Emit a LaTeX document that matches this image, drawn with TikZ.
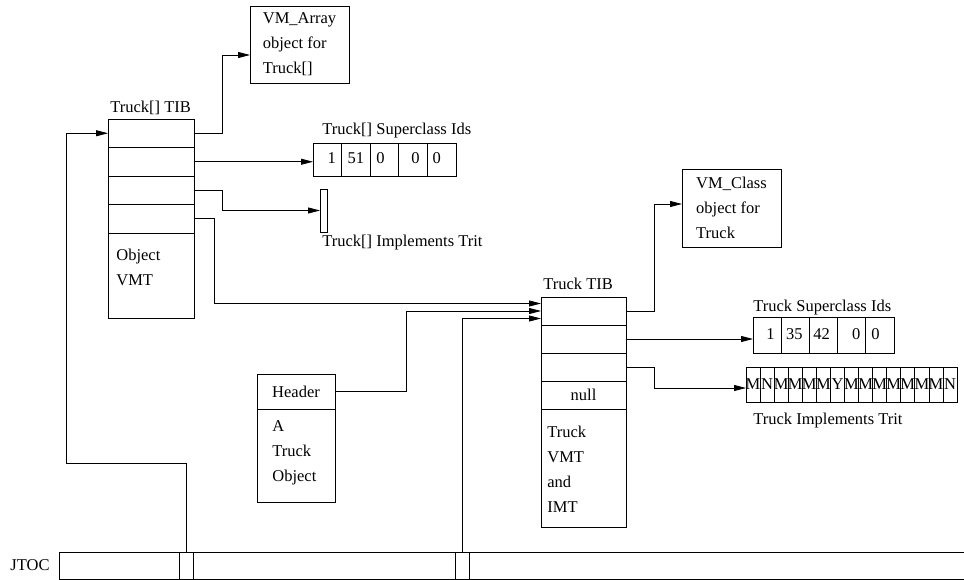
\documentclass[tikz,border=0pt]{standalone}
\usepackage{fontspec}
\setmainfont{Liberation Serif}
\usetikzlibrary{positioning, arrows.meta, calc}

\begin{document}
\begin{tikzpicture}[
    x=1pt, y=-1pt,
    >={Triangle[length=12pt,width=6pt]},
    line width=0.8pt,
    font=\fontsize{16.5}{25}\selectfont,
    node distance=0pt,
    arrow/.style={
        ->
    },
    slot/.style={
        rectangle,
        draw,
        inner sep=0pt,
        outer sep=0pt,
        minimum width=86pt,
        minimum height=28.5pt
    },
    box/.style={
        rectangle,
        draw,
        align=left,
        inner sep=0pt,
        outer sep=0pt
    },
    idcell/.style={
        rectangle,
        draw,
        inner sep=0pt,
        outer sep=0pt
    },
    tritcell/.style={
        idcell,
        minimum width=14.07pt,
        minimum height=35pt
    },
    txt/.style={
        align=left,
        inner sep=0pt
    },
    lbl/.style={
        inner sep=0pt
    }
]

    \useasboundingbox (0,0) rectangle (964,580);

    % --- Truck[] TIB ---
    \node[slot, anchor=north west] (ar1) at (108,119) {};
    \node[slot, below=of ar1] (ar2) {};
    \node[slot, below=of ar2] (ar3) {};
    \node[slot, below=of ar3] (ar4) {};
    \node[slot, below=of ar4, minimum height=85pt] (arvmt) {};
    \node[txt, anchor=north west] (arvmttxt) at ([shift={(8,16)}]arvmt.north west) {Object\\VMT};
    \node[lbl, anchor=base west] (arlbl) at ([shift={(2,-6)}]ar1.north west) {Truck[] TIB};

    \node[box, anchor=north west, minimum width=99pt, minimum height=77pt] (vmarr) at (250,6) {VM\_Array\\object for\\Truck[]};

    % Truck[] superclass ids
    \foreach \v/\dx [count=\i] in {1/4.5, 51/0, 0/-4, 0/2.5, 0/-5} {
        \node[idcell, minimum width=28.6pt, minimum height=33pt, anchor=north west] (asc\i) at (313+28.6*\i-28.6,143) {};
        \node[lbl] (ascv\i) at ([shift={(\dx,-1)}]asc\i.center) {\v};
    }
    \node[lbl, anchor=base west] (asclbl) at ([shift={(9,-8)}]asc1.north west) {Truck[] Superclass Ids};

    % Truck[] implements trit
    \node[idcell, minimum width=7pt, minimum height=43pt, anchor=north west] (artrit) at (320,189) {};
    \node[lbl, anchor=base west] (artritlbl) at ([shift={(2,15)}]artrit.south west) {Truck[] Implements Trit};

    % --- Truck TIB ---
    \node[slot, anchor=north west, minimum width=85pt, minimum height=28pt] (tr1) at (541,297) {};
    \node[slot, below=of tr1, minimum width=85pt, minimum height=28pt] (tr2) {};
    \node[slot, below=of tr2, minimum width=85pt, minimum height=28pt] (tr3) {};
    \node[slot, below=of tr3, minimum width=85pt, minimum height=28pt] (tr4) {null};
    \node[slot, below=of tr4, minimum width=85pt, minimum height=118pt] (trvmt) {};
    \node[txt, anchor=north west] (trvmttxt) at ([shift={(6,17)}]trvmt.north west) {Truck\\VMT\\and\\IMT};
    \node[lbl, anchor=base west] (trlbl) at ([shift={(2,-8)}]tr1.north west) {Truck TIB};

    \node[box, anchor=north west, minimum width=99pt, minimum height=78pt] (vmcls) at (682,169) {VM\_Class\\object for\\Truck};

    % Truck superclass ids
    \foreach \v/\dx [count=\i] in {1/3.5, 35/-1, 42/-2, 0/4.5, 0/-4.5} {
        \node[idcell, minimum width=28.2pt, minimum height=36pt, anchor=north west] (tsc\i) at (753+28.2*\i-28.2,317) {};
        \node[lbl] (tscv\i) at ([shift={(\dx,-1)}]tsc\i.center) {\v};
    }
    \node[lbl, anchor=base west] (tsclbl) at ([shift={(0,-6)}]tsc1.north west) {Truck Superclass Ids};

    % Truck implements trit
    \foreach \c [count=\i] in {M,N,M,M,M,M,Y,M,M,M,M,M,M,M,N} {
        \node[tritcell, anchor=north west] (tt\i) at (746+14.07*\i-14.07,367) {\makebox[0pt]{\c}};
    }
    \node[lbl, anchor=base west] (ttlbl) at ([shift={(7,22)}]tt1.south west) {Truck Implements Trit};

    % --- A Truck object ---
    \node[slot, anchor=north west, minimum width=78pt, minimum height=35pt] (hdr) at (257,374) {Header};
    \node[slot, below=of hdr, minimum width=78pt, minimum height=93pt] (obj) {};
    \node[txt, anchor=north west] (objtxt) at ([shift={(15,11)}]obj.north west) {A\\Truck\\Object};

    % --- JTOC ---
    \node[idcell, minimum width=911pt, minimum height=27pt, anchor=north west] (jtoc) at (59,552) {};
    \node[idcell, minimum width=14pt, minimum height=27pt, anchor=north west] (jc1) at (179,552) {};
    \node[idcell, minimum width=14pt, minimum height=27pt, anchor=north west] (jc2) at (455,552) {};
    \node[lbl, anchor=east] (jtoclbl) at ([xshift=-9pt]jtoc.west) {JTOC};

    % Truck[] TIB pointers
    \draw[arrow] (ar1.east) -- ++(28,0) |- ([yshift=-10.5pt]vmarr.west);
    \draw[arrow] (ar2.east) -- (ar2.east -| asc1.west);
    \draw[arrow] (ar3.east) -- ++(28,0) |- (artrit.west);
    \draw[arrow] (ar4.east) -- ++(20,0) |- ([yshift=7.5pt]tr1.west);

    % into Truck TIB
    \draw[arrow] (hdr.east) -- ++(71,0) |- (tr1.west);
    \draw[arrow] (jc2.north) |- ([yshift=-7.5pt]tr1.west);
    \draw[arrow] (jc1.north) -- ++(0,-89) -- ++(-120,0) |- (ar1.west);

    % Truck TIB pointers
    \draw[arrow] (tr1.east) -- ++(28,0) |- ([yshift=4pt]vmcls.west);
    \draw[arrow] (tr2.east) -- (tr2.east -| tsc1.west);
    \draw[arrow] (tr3.east) -- ++(28,0) |- ([yshift=-3.5pt]tt1.west);

\end{tikzpicture}
\end{document}
